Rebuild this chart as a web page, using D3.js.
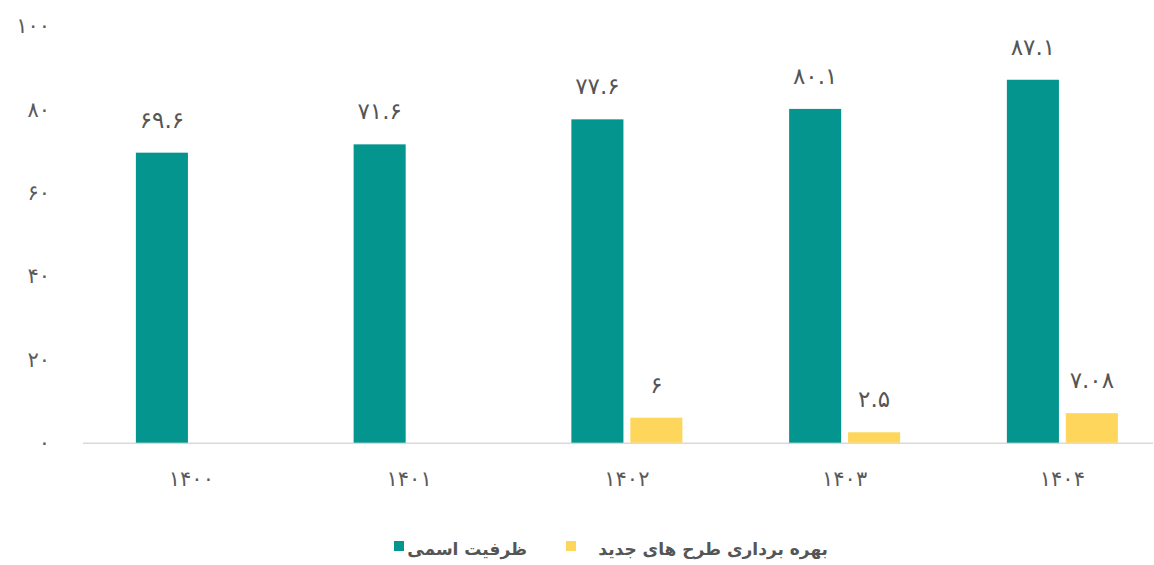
<!DOCTYPE html>
<html><head><meta charset="utf-8">
<script src="https://cdn.jsdelivr.net/npm/d3@7"></script>
<style>
html,body{margin:0;padding:0;background:#fff;}
svg{display:block;}
text{font-family:"DejaVu Sans","Noto Sans",sans-serif;}
</style></head>
<body>
<svg id="chart" width="1154" height="565"></svg>
<script>
const categories = ["1400","1401","1402","1403","1404"];
const seriesNames = ["ظرفیت اسمی","بهره برداری طرح های جدید"];
const nominalCapacity = [69.6, 71.6, 77.6, 80.1, 87.1];
const newProjects = [null, null, 6, 2.5, 7.08];
const yTicks = [0, 20, 40, 60, 80, 100];
const colors = ["#04958f", "#fed65c"];

const faDigits = "۰۱۲۳۴۵۶۷۸۹";
const fa = s => String(s).replace(/[0-9]/g, d => faDigits[+d]);

const svg = d3.select("#chart");
const x = d3.scaleBand().domain(categories).range([82.5, 1171.25]).padding(0);
const sub = d3.scaleBand().domain([0,1]).range([-55.5, 55.5]).paddingInner(13/111).paddingOuter(0);
const y = d3.scaleLinear().domain([0, 100]).range([442.7, 26]);

// baseline
svg.append("line").attr("x1", 83).attr("x2", 1153)
  .attr("y1", y(0)+0.5).attr("y2", y(0)+0.5)
  .attr("stroke", "#d9d9d9").attr("stroke-width", 1.5);

// y tick labels
const yAxis = d3.axisLeft(y).tickValues(yTicks).tickSize(0).tickFormat(d => fa(d));
const gy = svg.append("g").attr("transform", "translate(53,0)").call(yAxis);
gy.select(".domain").remove();
gy.selectAll("text").attr("font-size", 21).attr("fill", "#5a5a5a").attr("dx", 0);

// x labels
const xAxis = d3.axisBottom(x).tickSize(0).tickFormat(d => fa(d));
const gx = svg.append("g").attr("transform", `translate(${0},${y(0)+25})`).call(xAxis);
gx.select(".domain").remove();
gx.selectAll("text").attr("font-size", 21).attr("fill", "#5a5a5a");

const series = [nominalCapacity, newProjects];
series.forEach((vals, si) => {
  const data = categories.map((c, i) => ({c, v: vals[i]})).filter(d => d.v != null);
  const cx = d => x(d.c) + x.bandwidth()/2 + sub(si);
  svg.append("g").selectAll("rect").data(data).join("rect")
    .attr("x", cx).attr("width", sub.bandwidth())
    .attr("y", d => y(d.v)).attr("height", d => y(0) - y(d.v))
    .attr("fill", colors[si]);
  svg.append("g").selectAll("text").data(data).join("text")
    .attr("x", d => cx(d) + sub.bandwidth()/2)
    .attr("y", d => y(d.v) - 25)
    .attr("text-anchor", "middle")
    .attr("font-size", 23).attr("fill", "#555")
    .text(d => fa(d.v));
});

// legend
const legend = [
  {name: seriesNames[0], color: colors[0], sx: 394, tx: 527},
  {name: seriesNames[1], color: colors[1], sx: 566, tx: 828}
];
legend.forEach(l => {
  svg.append("rect").attr("x", l.sx).attr("y", 541).attr("width", 10).attr("height", 10).attr("fill", l.color);
  svg.append("text").attr("x", l.tx).attr("y", 555)
    .attr("font-size", 17).attr("font-weight", "bold").attr("fill", "#555")
    .style("direction", "rtl").attr("text-anchor", "start").text(l.name);
});
</script>
</body></html>
